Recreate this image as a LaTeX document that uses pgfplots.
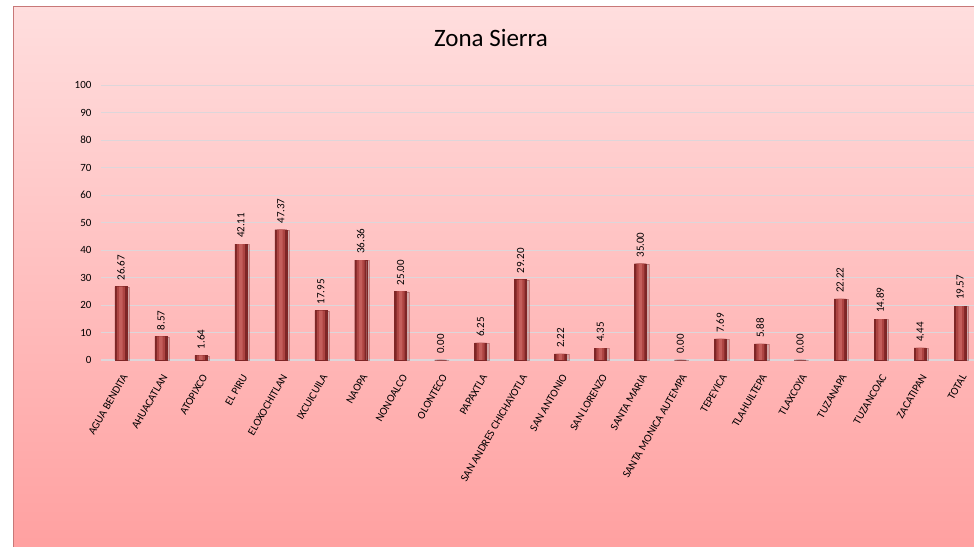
\documentclass[border=0pt]{standalone}
\usepackage{pgfplots}
\usepackage{pgfplotstable}
\pgfplotsset{compat=1.18}
\usepackage{fontspec}
\setmainfont{Carlito}
\usetikzlibrary{shadows}
\definecolor{bgtop}{HTML}{FFDEDE}
\definecolor{bgbot}{HTML}{FFA0A0}
\definecolor{frame}{HTML}{C87878}
\definecolor{bardark}{HTML}{7E2626}
\definecolor{barmain}{HTML}{AD4442}
\definecolor{barlight}{HTML}{C45E5B}
\definecolor{gridc}{HTML}{DDD6DA}
\pgfplotstableread{
x y
0 26.67
1 8.57
2 1.64
3 42.11
4 47.37
5 17.95
6 36.36
7 25.00
8 0.00
9 6.25
10 29.20
11 2.22
12 4.35
13 35.00
14 0.00
15 7.69
16 5.88
17 0.00
18 22.22
19 14.89
20 4.44
21 19.57
}\datatable
\begin{document}
\begin{tikzpicture}
\clip (0pt,0pt) rectangle (974pt,546pt);
\fill[white] (0pt,0pt) rectangle (974pt,546pt);
\shade[top color=bgtop, bottom color=bgbot] (13.5pt,-5pt) rectangle (990pt,539.5pt);
\draw[frame, line width=1.2pt] (13.5pt,-5pt) -- (13.5pt,539.5pt) -- (990pt,539.5pt);
\node[font=\fontsize{25}{28}\selectfont] at (491pt,508pt) {Zona Sierra};
\begin{axis}[
  at={(101pt,186pt)}, anchor=south west,
  scale only axis, width=879pt, height=275pt,
  xmin=-0.5, xmax=21.5, ymin=0, ymax=100,
  ytick={0,10,...,100},
  xtick={0,...,21},
  xticklabels={AGUA BENDITA,AHUACATLAN,ATOPIXCO,EL PIRU,ELOXOCHITLAN,IXCUICUILA,NAOPA,NONOALCO,OLONTECO,PAPAXTLA,SAN ANDRES CHICHAYOTLA,SAN ANTONIO,SAN LORENZO,SANTA MARIA,SANTA MONICA AUTEMPA,TEPEYICA,TLAHUILTEPA,TLAXCOYA,TUZANAPA,TUZANCOAC,ZACATIPAN,TOTAL},
  ymajorgrids, grid style={gridc, line width=0.9pt},
  axis lines*=left,
  y axis line style={draw=none},
  x axis line style={-, gridc, line width=1pt},
  major tick length=0pt,
  clip=false,
  /pgf/number format/assume math mode=true,
  yticklabel style={font=\fontsize{11}{13}\selectfont, xshift=-6pt},
  xticklabel style={font=\fontsize{11}{13}\selectfont, rotate=60, anchor=east, inner sep=1pt, yshift=-11pt, xshift=-10pt},
  ybar, bar shift=0pt,
]
\addplot[bar width=12pt, draw=bardark, line width=0.4pt, fill=bardark,
  drop shadow={shadow xshift=2.5pt, shadow yshift=-0.5pt, opacity=0.35},
  nodes near coords={\pgfmathprintnumber[fixed,zerofill,precision=2]{\pgfplotspointmeta}},
  every node near coord/.append style={rotate=90, anchor=west, font=\fontsize{11}{13}\selectfont, black, inner sep=6pt}]
  table[x=x, y=y] {\datatable};
\addplot[bar width=8pt, draw=none, fill=barmain] table[x=x, y=y] {\datatable};
\addplot[bar width=3.5pt, draw=none, fill=barlight] table[x=x, y=y] {\datatable};
\end{axis}
\end{tikzpicture}
\end{document}
